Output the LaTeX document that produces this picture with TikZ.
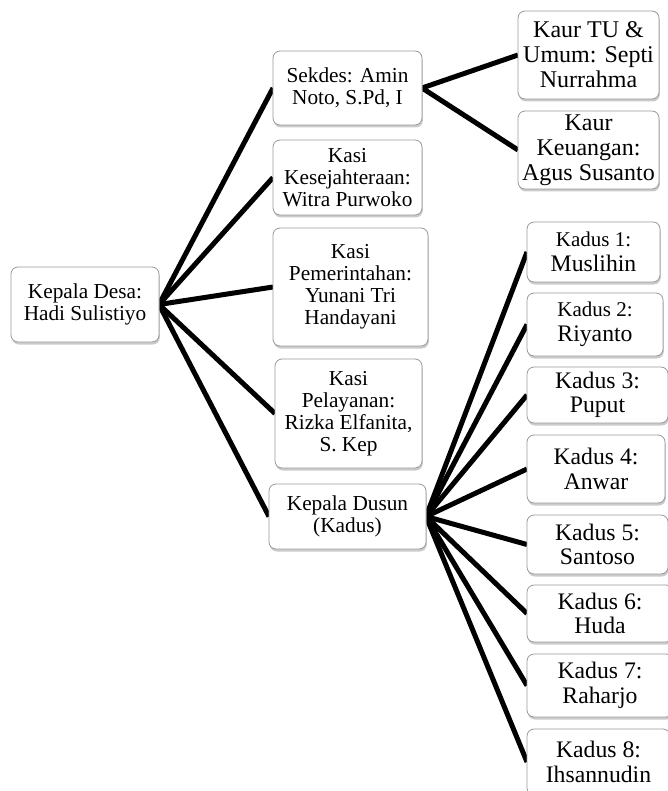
\documentclass[tikz,border=0pt]{standalone}
\usepackage{fontspec}
\setmainfont{Liberation Serif}
\usetikzlibrary{shadows,backgrounds}
\tikzset{
  orgbox/.style={draw=black!40, line width=0.8pt, rounded corners=7pt, fill=white,
    align=center, inner sep=0pt, outer sep=0pt,
    drop shadow={shadow xshift=0.8pt, shadow yshift=-2.5pt, fill=black!45, opacity=0.45}},
  sz/.style 2 args={minimum width=#1pt, minimum height=#2pt},
  midbox/.style={orgbox, font=\fontsize{21.3}{22}\selectfont},
  kaurbox/.style={orgbox, font=\fontsize{24}{25}\selectfont},
  kadbox/.style={orgbox, font=\fontsize{23.7}{24.5}\selectfont},
  link/.style={line width=5pt, black},
}
\begin{document}
\begin{tikzpicture}[x=1pt,y=-1pt]
\useasboundingbox (0,0) rectangle (668,791);
\clip (0,0) rectangle (668,791);

\node[midbox, sz={148}{75}] (root) at (85,304.5) {Kepala Desa:\\Hadi Sulistiyo};

\node[midbox, sz={149}{74}] (sekdes) at (347.5,88) {Sekdes: Amin\\Noto, S.Pd, I};
\node[midbox, sz={149}{75}] (kesej) at (347.5,177.5) {Kasi\\Kesejahteraan:\\Witra Purwoko};
\node[midbox, sz={155}{118}] (pemer) at (350.5,287) {Kasi\\Pemerintahan:\\Yunani Tri\\Handayani};
\node[midbox, sz={147}{109}] (pelay) at (348.5,413.5) {Kasi\\Pelayanan:\\Rizka Elfanita,\\S. Kep};
\node[midbox, sz={157}{65}] (dusun) at (347.5,516.5) {Kepala Dusun\\(Kadus)};

\node[kaurbox, sz={141}{88}] (kaurtu) at (588.5,55) {Kaur TU \&\\Umum: Septi\\Nurrahma};
\node[kaurbox, sz={141}{78}] (kaurku) at (588.5,150) {Kaur\\Keuangan:\\Agus Susanto};

\node[kadbox, sz={133}{60}] (k1) at (593.5,252) {{\fontsize{21}{22}\selectfont Kadus 1:}\\Muslihin};
\node[kadbox, sz={136}{63}] (k2) at (595,324.5) {{\fontsize{21}{22}\selectfont Kadus 2:}\\Riyanto};
\node[kadbox, sz={141}{56}] (k3) at (597.5,395) {Kadus 3:\\Puput};
\node[kadbox, sz={138}{68}] (k4) at (596,469) {Kadus 4:\\Anwar};
\node[kadbox, sz={141}{59}] (k5) at (597.5,544.5) {Kadus 5:\\Santoso};
\node[kadbox, sz={146}{57}] (k6) at (600,613.5) {Kadus 6:\\Huda};
\node[kadbox, sz={146}{63}] (k7) at (600,685.5) {Kadus 7:\\Raharjo};
\node[kadbox, sz={143}{66}] (k8) at (598.5,762) {Kadus 8:\\Ihsannudin};

\begin{scope}[on background layer]
  \foreach \c in {sekdes,kesej,pemer,pelay,dusun}
    \draw[link] (root.east) -- (\c.west);
  \foreach \c in {kaurtu,kaurku}
    \draw[link] (sekdes.east) -- (\c.west);
  \foreach \c in {k1,k2,k3,k4,k5,k6,k7,k8}
    \draw[link] (dusun.east) -- (\c.west);
\end{scope}
\end{tikzpicture}
\end{document}
